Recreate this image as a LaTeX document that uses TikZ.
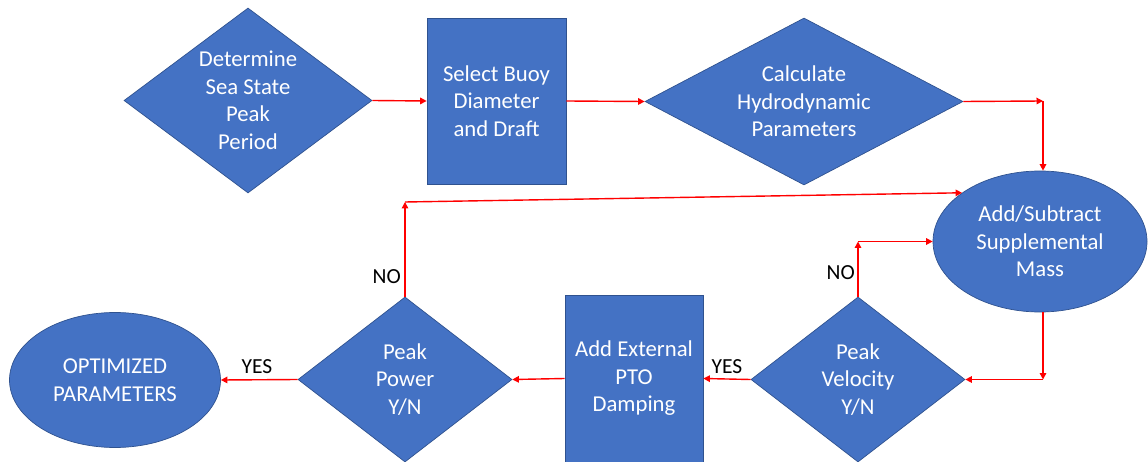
\documentclass[tikz,border=0pt]{standalone}
\usepackage{fontspec}
\setmainfont{Carlito}
\usepackage{tikz}
\usetikzlibrary{shapes.geometric}
\usetikzlibrary{arrows.meta}
\definecolor{boxblue}{HTML}{4472C4}
\definecolor{boxedge}{HTML}{2F528F}

\begin{document}
\begin{tikzpicture}[x=1pt,y=-1pt,
    box/.style={draw=boxedge,line width=0.7pt,fill=boxblue,text=white,align=center,inner sep=0pt,
        font=\fontsize{22.7}{27.5}\selectfont},
    dmd/.style={box,shape=diamond},
    rct/.style={box,shape=rectangle},
    ell/.style={box,shape=ellipse},
    link/.style={draw=red,line width=1.4pt,-{Triangle[length=6.5pt,width=6.5pt]}},
    lbl/.style={font=\fontsize{21.5}{25}\selectfont,text=black,inner sep=0pt}]
            \useasboundingbox (0,0) rectangle (1148,462);
            \node[dmd,aspect=1.34,minimum width=248,minimum height=185] (det) at (248,100.5) {Determine\\Sea State\\Peak\\Period};
            \node[rct,minimum width=139,minimum height=166] (buoy) at (496.5,101) {Select Buoy\\Diameter\\and Draft};
            \node[dmd,aspect=1.9,minimum width=318,minimum height=167] (hyd) at (804,101.5) {Calculate\\Hydrodynamic\\Parameters};
            \node[ell,minimum width=214,minimum height=141] (mass) at (1040,241.5) {Add/Subtract\\Supplemental\\Mass};
            \node[dmd,aspect=1.3,minimum width=214,minimum height=165] (vel) at (858,379.5) {Peak\\Velocity\\Y/N};
            \node[rct,minimum width=138,minimum height=167] (pto) at (634,378.5) {Add External\\PTO\\Damping};
            \node[dmd,aspect=1.3,minimum width=214,minimum height=165] (pow) at (405,379.5) {Peak\\Power\\Y/N};
            \node[ell,minimum width=211,minimum height=135] (opt) at (115,380) {OPTIMIZED\\PARAMETERS};
            % corners of the connectors
            \coordinate (c1) at (1043,101);
            \coordinate (c2) at (1043,379.5);
            \coordinate (c3) at (858,241.5);
            \coordinate (c4) at (405,202);
            \draw[link] (det.east) -- (buoy.west);
            \draw[link] (buoy.east) -- (hyd.west);
            \draw[link] (hyd.east) -- (c1);
            \draw[link] (c1) -- (c1 |- mass.north);
            \draw[link] (c1 |- mass.south) -- (c2);
            \draw[link] (c2) -- (vel.east);
            \draw[link] (vel.north) -- (c3);
            \draw[link] (c3) -- (mass.west);
            \draw[link] (vel.west) -- (pto.east);
            \draw[link] (pto.west) -- (pow.east);
            \draw[link] (pow.north) -- (c4);
            \draw[link] (c4) -- (mass.148);
            \draw[link] (pow.west) -- (opt.east);
            \node[lbl,anchor=east] (no1) at (401,277) {NO};
            \node[lbl,anchor=east] (no2) at (855,273) {NO};
            \node[lbl] (yes1) at (727,367) {YES};
            \node[lbl] (yes2) at (257,367) {YES};
        \end{tikzpicture}
\end{document}
